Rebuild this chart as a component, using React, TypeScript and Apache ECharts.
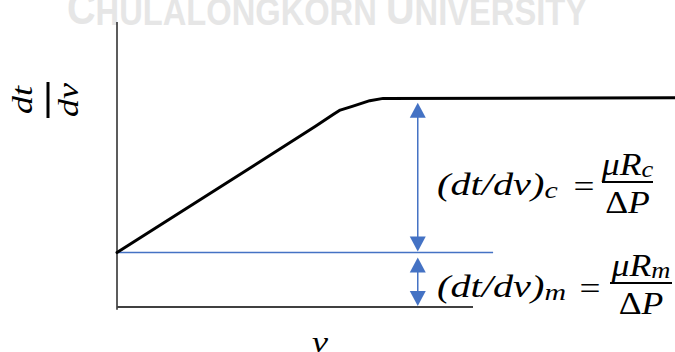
import { useEffect, useRef } from "react";
import * as echarts from "echarts";

// Filtration plot: dt/dv against v, linear rise then constant plateau.
const vValues = [0, 3.55, 3.88, 4.0, 4.23, 4.53, 4.77, 10];
const dtdvValues = [1.91, 6.33, 6.76, 6.91, 7.05, 7.24, 7.32, 7.34];
// Reference levels of the two slopes
const dtdvMedium = 1.91;
const dtdvCake = 7.34;
// Axis extents and annotation stations (data units)
const axisMax = [10, 10];
const xAxisEnd = 6.38;
const mediumLineEnd = 6.74;
const arrowStation = 5.39;

const BLUE = "#4472C4";
const MATH_FONT = "Liberation Serif";
const BANNER_FONT = "Liberation Sans";

function pairs(xs: number[], ys: number[]) {
  return xs.map((x, i) => [x, ys[i]]);
}

const mathRich = {
  m: { fontFamily: MATH_FONT, fontStyle: "italic", fontSize: 31, lineHeight: 34, verticalAlign: "middle", fill: "#000" },
  u: { fontFamily: MATH_FONT, fontSize: 31, lineHeight: 34, verticalAlign: "middle", fill: "#000" },
  s: { fontFamily: MATH_FONT, fontStyle: "italic", fontSize: 23, lineHeight: 22, verticalAlign: "bottom", fill: "#000" },
};

function formula(x: number, y: number, sub: string, eqX: number, barX1: number, barX2: number, barY: number) {
  const cx = (barX1 + barX2) / 2;
  return {
    type: "group",
    children: [
      {
        type: "text",
        x,
        y,
        scaleX: 1.3,
        style: {
          text: `{m|(dt/dv)}{s|${sub}}`,
          rich: mathRich,
          align: "left",
          verticalAlign: "middle",
        },
      },
      {
        type: "text",
        x: eqX,
        y: y + 1,
        scaleX: 1.2,
        style: { text: "=", fontFamily: MATH_FONT, fontSize: 31, fill: "#000", align: "center", verticalAlign: "middle" },
      },
      {
        type: "line",
        shape: { x1: barX1, y1: barY, x2: barX2, y2: barY },
        style: { stroke: "#000", lineWidth: 2 },
      },
      {
        type: "text",
        x: cx,
        y: barY - 1,
        scaleX: 1.15,
        style: { text: `{m|μR}{s|${sub}}`, rich: mathRich, align: "center", verticalAlign: "bottom" },
      },
      {
        type: "text",
        x: cx,
        y: barY + 3,
        scaleX: 1.15,
        style: { text: "{u|Δ}{m|P}", rich: mathRich, align: "center", verticalAlign: "top" },
      },
    ],
  };
}

export default function App() {
  const ref = useRef<HTMLDivElement>(null);

  useEffect(() => {
    if (!ref.current) return;
    const chart = echarts.init(ref.current, null, { renderer: "svg" });

    const plain = { symbol: "none", silent: true, clip: false, z: 2 };

    chart.setOption({
      animation: false,
      backgroundColor: "#fff",
      grid: { left: 117, right: 0, top: 22, bottom: 45 },
      xAxis: { type: "value", min: 0, max: axisMax[0], show: false },
      yAxis: { type: "value", min: 0, max: axisMax[1], show: false },
      series: [
        {
          ...plain,
          type: "line",
          data: [[0, -0.1], [0, axisMax[1]]],
          lineStyle: { color: "#262626", width: 1.5 },
        },
        {
          ...plain,
          type: "line",
          data: [[0, 0], [xAxisEnd, 0]],
          lineStyle: { color: "#404040", width: 2 },
        },
        {
          ...plain,
          type: "line",
          data: [[0, dtdvMedium], [mediumLineEnd, dtdvMedium]],
          lineStyle: { color: BLUE, width: 1.5 },
        },
        {
          ...plain,
          type: "line",
          z: 3,
          smooth: false,
          data: pairs(vValues, dtdvValues),
          lineStyle: { color: "#000", width: 3, join: "round", cap: "round" },
        },
        {
          type: "custom",
          silent: true,
          clip: false,
          z: 4,
          encode: { x: 0, y: [1, 2] },
          data: [
            [arrowStation, dtdvMedium, dtdvCake],
            [arrowStation, 0, dtdvMedium],
          ],
          renderItem: (_params: any, api: any) => {
            const top = api.coord([api.value(0), api.value(2)]);
            const bot = api.coord([api.value(0), api.value(1)]);
            const headW = 16;
            const headL = 15;
            const cx = top[0];
            const tipTop = top[1] + 5;
            const tipBot = bot[1] - 1;
            return {
              type: "group",
              children: [
                {
                  type: "line",
                  shape: { x1: cx, y1: tipTop + headL - 1, x2: cx, y2: tipBot - headL + 1 },
                  style: { stroke: BLUE, lineWidth: 1.5 },
                },
                {
                  type: "polygon",
                  shape: { points: [[cx, tipTop], [cx - headW / 2, tipTop + headL], [cx + headW / 2, tipTop + headL]] },
                  style: { fill: BLUE },
                },
                {
                  type: "polygon",
                  shape: { points: [[cx, tipBot], [cx - headW / 2, tipBot - headL], [cx + headW / 2, tipBot - headL]] },
                  style: { fill: BLUE },
                },
              ],
            };
          },
        },
      ],
      graphic: [
        // faint banner across the top edge
        {
          type: "text",
          x: 67,
          y: 31,
          scaleX: 0.86,
          z: 0,
          silent: true,
          style: {
            text: "{b|C}{s|HULALONGKORN }{b|U}{s|NIVERSITY}",
            align: "left",
            verticalAlign: "bottom",
            rich: {
              b: { fontFamily: BANNER_FONT, fontWeight: "bold", fontSize: 46, lineHeight: 46, verticalAlign: "bottom", fill: "#e6e6e6" },
              s: { fontFamily: BANNER_FONT, fontWeight: "bold", fontSize: 38, lineHeight: 38, verticalAlign: "bottom", fill: "#e6e6e6" },
            },
          },
        },
        // y-axis title: dt over dv, turned on its side
        {
          type: "group",
          x: 48,
          y: 100,
          rotation: Math.PI / 2,
          children: [
            { type: "line", shape: { x1: -18, y1: 0, x2: 18, y2: 0 }, style: { stroke: "#000", lineWidth: 3 } },
            {
              type: "text",
              x: 0,
              y: -11,
              scaleX: 1.2,
              style: { text: "dt", fontFamily: MATH_FONT, fontStyle: "italic", fontSize: 30, fill: "#000", align: "center", verticalAlign: "bottom" },
            },
            {
              type: "text",
              x: 0,
              y: 5,
              scaleX: 1.2,
              style: { text: "dv", fontFamily: MATH_FONT, fontStyle: "italic", fontSize: 30, fill: "#000", align: "center", verticalAlign: "top" },
            },
          ],
        },
        // x-axis title
        {
          type: "text",
          x: 320,
          y: 342,
          scaleX: 1.2,
          style: { text: "v", fontFamily: MATH_FONT, fontStyle: "italic", fontSize: 30, fill: "#000", align: "center", verticalAlign: "middle" },
        },
        formula(437, 185, "c", 584, 602, 653, 182),
        formula(437, 287, "m", 590, 610, 672, 283),
      ],
    });

    return () => chart.dispose();
  }, []);

  return <div ref={ref} style={{ position: "fixed", left: 0, top: 0, width: 675, height: 352 }} />;
}
